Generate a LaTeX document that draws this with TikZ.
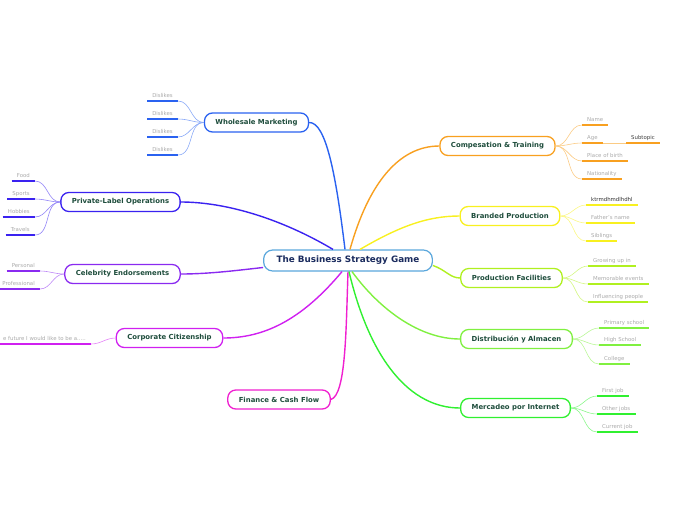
\documentclass[tikz,border=0pt]{standalone}
\usepackage{fontspec}
\setmainfont{DejaVu Sans}
\definecolor{cen}{HTML}{5AA7DC}
\definecolor{cwm}{HTML}{2A62F0}
\definecolor{cpl}{HTML}{3A22F0}
\definecolor{cce}{HTML}{8A2AF0}
\definecolor{cco}{HTML}{D020F0}
\definecolor{cfi}{HTML}{F020D0}
\definecolor{cct}{HTML}{F8A020}
\definecolor{cbp}{HTML}{F8F020}
\definecolor{cpf}{HTML}{B0F020}
\definecolor{cda}{HTML}{80F040}
\definecolor{cmi}{HTML}{30F030}
\definecolor{maintxt}{HTML}{1E4D3C}
\definecolor{centxt}{HTML}{1A2B5E}
\definecolor{subtxt}{HTML}{AAAAAA}
\begin{document}
\begin{tikzpicture}[x=1pt,y=-1pt,
  mainbox/.style={draw=#1, line width=1.3pt, fill=white, rounded corners=8pt,
    minimum height=19pt, inner xsep=11pt, inner ysep=0pt,
    font=\fontsize{6.9}{7}\selectfont\bfseries, text=maintxt},
  subnode/.style={inner xsep=5pt, inner ysep=2pt, text height=4pt, text depth=1pt,
    font=\fontsize{5.4}{6}\selectfont, text=subtxt,
    append after command={(\tikzlastnode.south west) edge[draw=#1, line width=1.3pt] (\tikzlastnode.south east)}},
  branch/.style={draw=#1, line width=1.4pt},
  twig/.style={draw=#1!55, line width=0.6pt}
]
\useasboundingbox (0,0) rectangle (696,520);
% central
\node[draw=cen, line width=1.2pt, fill=white, rounded corners=9pt, minimum height=21pt,
  inner xsep=13pt, inner ysep=0pt, font=\fontsize{8.8}{9}\selectfont\bfseries, text=centxt]
  (c) at (348,260.5) {The Business Strategy Game};
% main nodes
\node[mainbox=cwm] (wm) at (256.5,122.5) {Wholesale Marketing};
\node[mainbox=cpl] (pl) at (120.5,202) {Private-Label Operations};
\node[mainbox=cce] (ce) at (122.5,274) {Celebrity Endorsements};
\node[mainbox=cco] (co) at (169.5,338) {Corporate Citizenship};
\node[mainbox=cfi] (fi) at (279,399.5) {Finance \& Cash Flow};
\node[mainbox=cct] (ct) at (497.5,146) {Compesation \& Training};
\node[mainbox=cbp] (bp) at (510,216) {Branded Production};
\node[mainbox=cpf] (pf) at (511.5,278) {Production Facilities};
\node[mainbox=cda] (da) at (516.5,339) {Distribución y Almacen};
\node[mainbox=cmi] (mi) at (515.5,408) {Mercadeo por Internet};
% branches
\draw[branch=cwm] ([xshift=-3pt]c.north) .. controls (336,175) and (326,122) .. (wm.east);
\draw[branch=cpl] ([xshift=-15pt]c.north) .. controls (280,218) and (225,202) .. (pl.east);
\draw[branch=cce] ([yshift=-7pt]c.west) .. controls (240,270) and (210,274) .. (ce.east);
\draw[branch=cco] ([xshift=-6pt]c.south) .. controls (300,322) and (262,338) .. (co.east);
\draw[branch=cfi] (c.south) .. controls (346,330) and (346,395) .. (fi.east);
\draw[branch=cct] ([xshift=2pt]c.north) .. controls (368,185) and (398,146) .. (ct.west);
\draw[branch=cbp] ([xshift=12pt]c.north) .. controls (400,226) and (428,216) .. (bp.west);
\draw[branch=cpf] ([yshift=-5pt]c.east) .. controls (446,270) and (450,278) .. (pf.west);
\draw[branch=cda] ([xshift=4pt]c.south) .. controls (380,310) and (420,339) .. (da.west);
\draw[branch=cmi] ([xshift=1pt]c.south) .. controls (370,360) and (410,408) .. (mi.west);
% Wholesale subtopics
\node[subnode=cwm, anchor=south east] (w1) at (178,101) {Dislikes};
\node[subnode=cwm, anchor=south east] (w2) at (178,119) {Dislikes};
\node[subnode=cwm, anchor=south east] (w3) at (178,137) {Dislikes};
\node[subnode=cwm, anchor=south east] (w4) at (178,155) {Dislikes};
\foreach \s in {w1,w2,w3,w4} \draw[twig=cwm] (wm.west) to[out=180,in=0] (\s.south east);
% Private-label subtopics
\node[subnode=cpl, anchor=south east] (p1) at (35,181) {Food};
\node[subnode=cpl, anchor=south east] (p2) at (35,199) {Sports};
\node[subnode=cpl, anchor=south east] (p3) at (35,217) {Hobbies};
\node[subnode=cpl, anchor=south east] (p4) at (35,235) {Travels};
\foreach \s in {p1,p2,p3,p4} \draw[twig=cpl] (pl.west) to[out=180,in=0] (\s.south east);
% Celebrity subtopics
\node[subnode=cce, anchor=south east] (e1) at (40,271) {Personal};
\node[subnode=cce, anchor=south east] (e2) at (40,289) {Professional};
\foreach \s in {e1,e2} \draw[twig=cce] (ce.west) to[out=180,in=0] (\s.south east);
% Corporate subtopic
\node[subnode=cco, anchor=south east] (o1) at (91,344) {e future I would like to be a.....};
\draw[twig=cco] (co.west) to[out=180,in=0] (o1.south east);
% Compesation subtopics
\node[subnode=cct, anchor=south west] (t1) at (582,125) {Name};
\node[subnode=cct, anchor=south west] (t2) at (582,143) {Age};
\node[subnode=cct, anchor=south west] (t3) at (582,161) {Place of birth};
\node[subnode=cct, anchor=south west] (t4) at (582,179) {Nationality};
\foreach \s in {t1,t2,t3,t4} \draw[twig=cct] (ct.east) to[out=0,in=180] (\s.south west);
\node[subnode=cct, anchor=south west, text=black!75] (t5) at (626,143) {Subtopic};
\draw[twig=cct] (t2.south east) -- (t5.south west);
% Branded subtopics
\node[subnode=cbp, anchor=south west, text=black!80] (b1) at (586,205) {ktrmdhmdlhdhl};
\node[subnode=cbp, anchor=south west] (b2) at (586,223) {Father's name};
\node[subnode=cbp, anchor=south west] (b3) at (586,241) {Siblings};
\foreach \s in {b1,b2,b3} \draw[twig=cbp] (bp.east) to[out=0,in=180] (\s.south west);
% Production facilities subtopics
\node[subnode=cpf, anchor=south west] (f1) at (588,266) {Growing up in};
\node[subnode=cpf, anchor=south west] (f2) at (588,284) {Memorable events};
\node[subnode=cpf, anchor=south west] (f3) at (588,302) {Influencing people};
\foreach \s in {f1,f2,f3} \draw[twig=cpf] (pf.east) to[out=0,in=180] (\s.south west);
% Distribucion subtopics
\node[subnode=cda, anchor=south west] (d1) at (599,328) {Primary school};
\node[subnode=cda, anchor=south west] (d2) at (599,345) {High School};
\node[subnode=cda, anchor=south west] (d3) at (599,364) {College};
\foreach \s in {d1,d2,d3} \draw[twig=cda] (da.east) to[out=0,in=180] (\s.south west);
% Mercadeo subtopics
\node[subnode=cmi, anchor=south west] (m1) at (597,396) {First job};
\node[subnode=cmi, anchor=south west] (m2) at (597,414) {Other jobs};
\node[subnode=cmi, anchor=south west] (m3) at (597,432) {Current job};
\foreach \s in {m1,m2,m3} \draw[twig=cmi] (mi.east) to[out=0,in=180] (\s.south west);
\end{tikzpicture}
\end{document}
